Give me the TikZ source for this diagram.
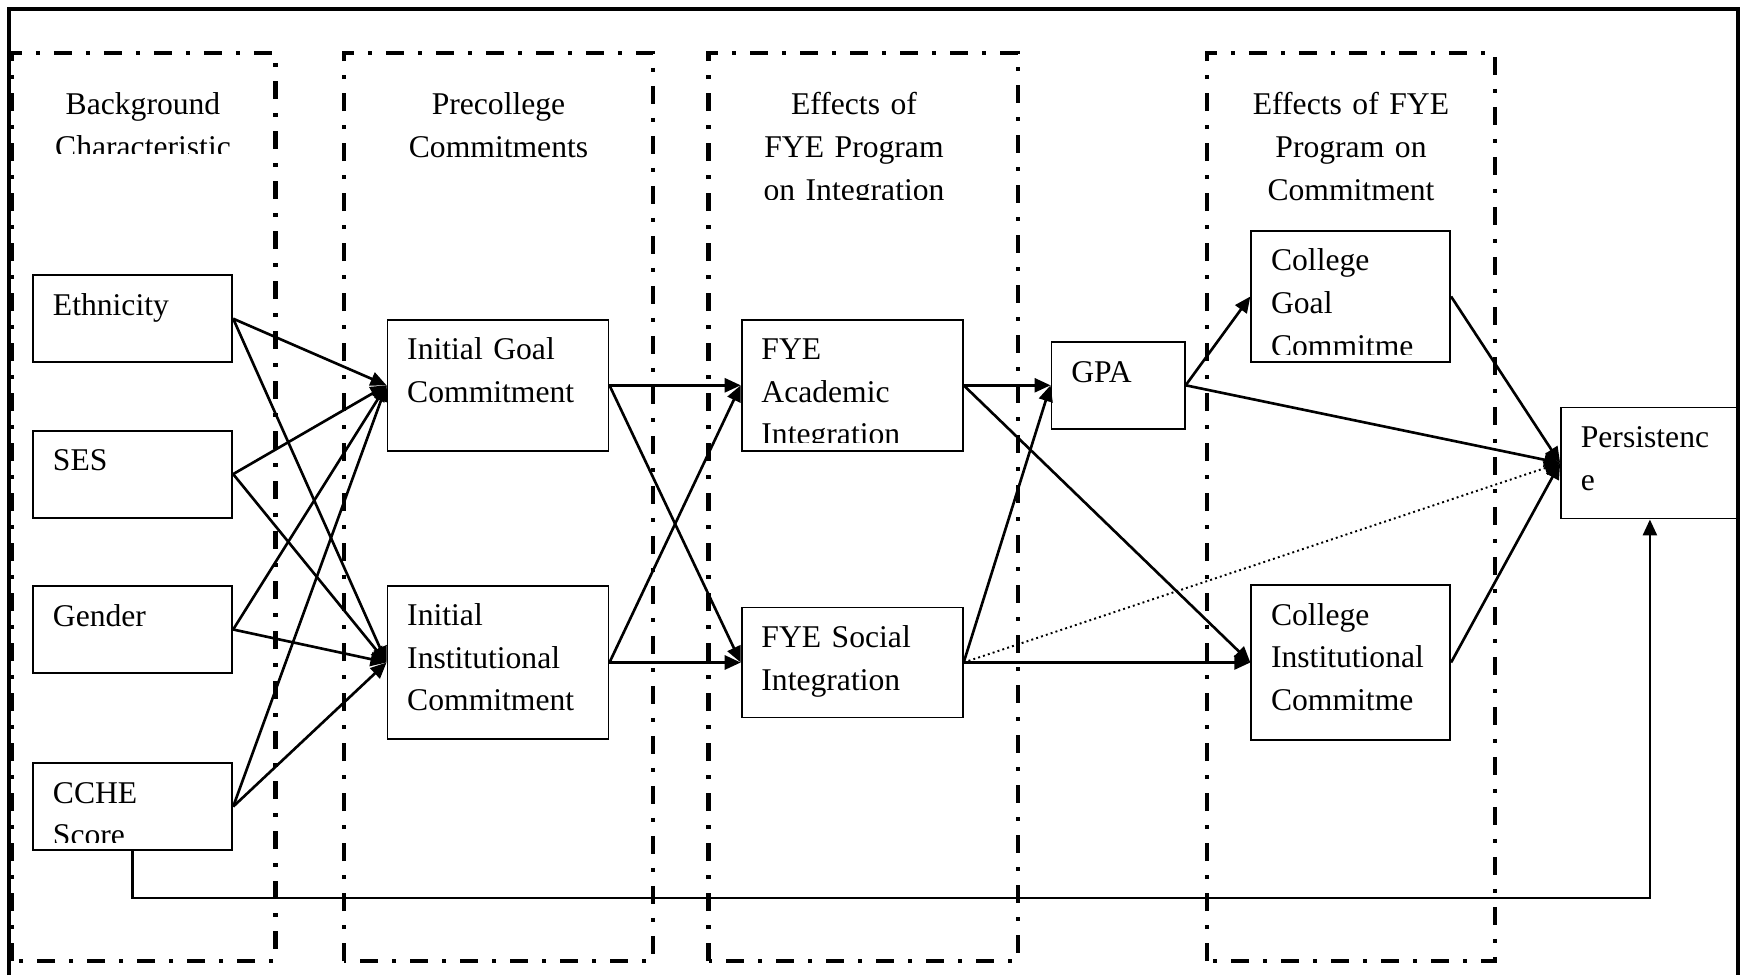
\documentclass[tikz,border=0pt]{standalone}
\usepackage{fontspec}
\setmainfont{Liberation Serif}
\usetikzlibrary{arrows.meta}

\tikzset{
  group/.style={line width=1.4pt, dash pattern=on 0.18cm off 0.14cm on 0.04cm off 0.14cm},
  box/.style 2 args={draw, line width=0.55pt, inner sep=0pt, minimum width=#1, minimum height=#2},
  lbl/.style={anchor=base west, inner sep=0pt, text width=2cm, align=left},
  head/.style={anchor=base, inner sep=0pt, text width=2.9cm, align=center},
  arr/.style={line width=0.75pt, -{Triangle[length=0.16cm,width=0.14cm]}},
}

\begin{document}
\begin{tikzpicture}[every node/.style={font=\fontsize{9}{12.1}\selectfont}]
    \useasboundingbox (0,0) rectangle (17.41,9.75);
    % outer frame, open at the bottom
    \draw[line width=1.1pt] (0.09,0) |- (17.38,9.66) -- (17.38,0);

    % groups
    \draw[group] (0.12,0.14) rectangle (2.755,9.22);
    \draw[group] (3.44,0.14) rectangle (6.53,9.22);
    \draw[group] (7.085,0.14) rectangle (10.18,9.22);
    \draw[group] (12.07,0.14) rectangle (14.95,9.22);

    \begin{scope}
      \clip (0.2,8.21) rectangle (2.7,9.1);
      \node[head] (bg-h) at (1.43,8.60) {Background\\Characteristic};
    \end{scope}
    \node[head] (pc-h) at (4.985,8.60) {Precollege\\Commitments};
    \begin{scope}
      \clip (7.2,7.75) rectangle (10.1,9.1);
      \node[head] (ei-h) at (8.54,8.60) {Effects of\\FYE Program\\on Integration};
    \end{scope}
    \node[head] (ec-h) at (13.51,8.60) {Effects of FYE\\Program on\\Commitment};

    % boxes
    \node[box={1.99cm}{0.87cm}] (eth) at (1.327,6.563) {};
    \node[box={1.99cm}{0.87cm}] (ses) at (1.327,5.009) {};
    \node[box={1.99cm}{0.87cm}] (gen) at (1.327,3.455) {};
    \node[box={1.99cm}{0.87cm}] (cche) at (1.327,1.684) {};
    \node[box={2.21cm}{1.31cm}] (igc) at (4.98,5.897) {};
    \node[box={2.21cm}{1.533cm}] (iic) at (4.98,3.125) {};
    \node[box={2.21cm}{1.31cm}] (fya) at (8.522,5.897) {};
    \node[box={2.21cm}{1.10cm}] (fys) at (8.522,3.125) {};
    \node[box={1.332cm}{0.866cm}] (gpa) at (11.181,5.897) {};
    \node[box={1.988cm}{1.311cm}] (cgc) at (13.507,6.785) {};
    \node[box={1.988cm}{1.544cm}] (cic) at (13.507,3.125) {};
    \node[box={1.776cm}{1.11cm}] (per) at (16.499,5.12) {};

    % box texts
    \node[lbl] (eth-t) at ([shift={(0.2,-0.41)}]eth.north west) {Ethnicity};
    \node[lbl] (ses-t) at ([shift={(0.2,-0.41)}]ses.north west) {SES};
    \node[lbl] (gen-t) at ([shift={(0.2,-0.41)}]gen.north west) {Gender};
    \begin{scope}
      \clip ([yshift=0.09cm]cche.south west) rectangle (cche.north east);
      \node[lbl] (cche-t) at ([shift={(0.2,-0.41)}]cche.north west) {CCHE\\Score};
    \end{scope}
    \node[lbl] (igc-t) at ([shift={(0.2,-0.41)}]igc.north west) {Initial Goal\\Commitment};
    \node[lbl] (iic-t) at ([shift={(0.2,-0.41)}]iic.north west) {Initial\\Institutional\\Commitment};
    \begin{scope}
      \clip ([yshift=0.09cm]fya.south west) rectangle (fya.north east);
      \node[lbl] (fya-t) at ([shift={(0.2,-0.41)}]fya.north west) {FYE\\Academic\\Integration};
    \end{scope}
    \node[lbl] (fys-t) at ([shift={(0.2,-0.41)}]fys.north west) {FYE Social\\Integration};
    \node[lbl] (gpa-t) at ([shift={(0.2,-0.41)}]gpa.north west) {GPA};
    \begin{scope}
      \clip ([yshift=0.09cm]cgc.south west) rectangle (cgc.north east);
      \node[lbl] (cgc-t) at ([shift={(0.2,-0.41)}]cgc.north west) {College\\Goal\\Commitme};
    \end{scope}
    \node[lbl] (cic-t) at ([shift={(0.2,-0.41)}]cic.north west) {College\\Institutional\\Commitme};
    \node[lbl] (per-t) at ([shift={(0.2,-0.41)}]per.north west) {Persistenc\\e};

    % paths
    \draw[arr] (eth.east) -- (igc.west);
    \draw[arr] (eth.east) -- (iic.west);
    \draw[arr] (ses.east) -- (igc.west);
    \draw[arr] (ses.east) -- (iic.west);
    \draw[arr] (gen.east) -- (igc.west);
    \draw[arr] (gen.east) -- (iic.west);
    \draw[arr] (cche.east) -- (igc.west);
    \draw[arr] (cche.east) -- (iic.west);
    \draw[arr] (igc.east) -- (fya.west);
    \draw[arr] (igc.east) -- (fys.west);
    \draw[arr] (iic.east) -- (fya.west);
    \draw[arr] (iic.east) -- (fys.west);
    \draw[arr] (fya.east) -- (gpa.west);
    \draw[arr] (fya.east) -- (cic.west);
    \draw[arr] (fys.east) -- (gpa.west);
    \draw[arr] (fys.east) -- (cic.west);
    \draw[arr, line width=0.55pt, dash pattern=on 0.55pt off 0.9pt] (fys.east) -- (per.west);
    \draw[arr] (gpa.east) -- (cgc.west);
    \draw[arr] (gpa.east) -- (per.west);
    \draw[arr] (cgc.east) -- (per.west);
    \draw[arr] (cic.east) -- (per.west);
    \coordinate (low) at (1.327,0.77);
    \draw[arr] (cche.south) -- (low) -| (per.south);
\end{tikzpicture}
\end{document}
